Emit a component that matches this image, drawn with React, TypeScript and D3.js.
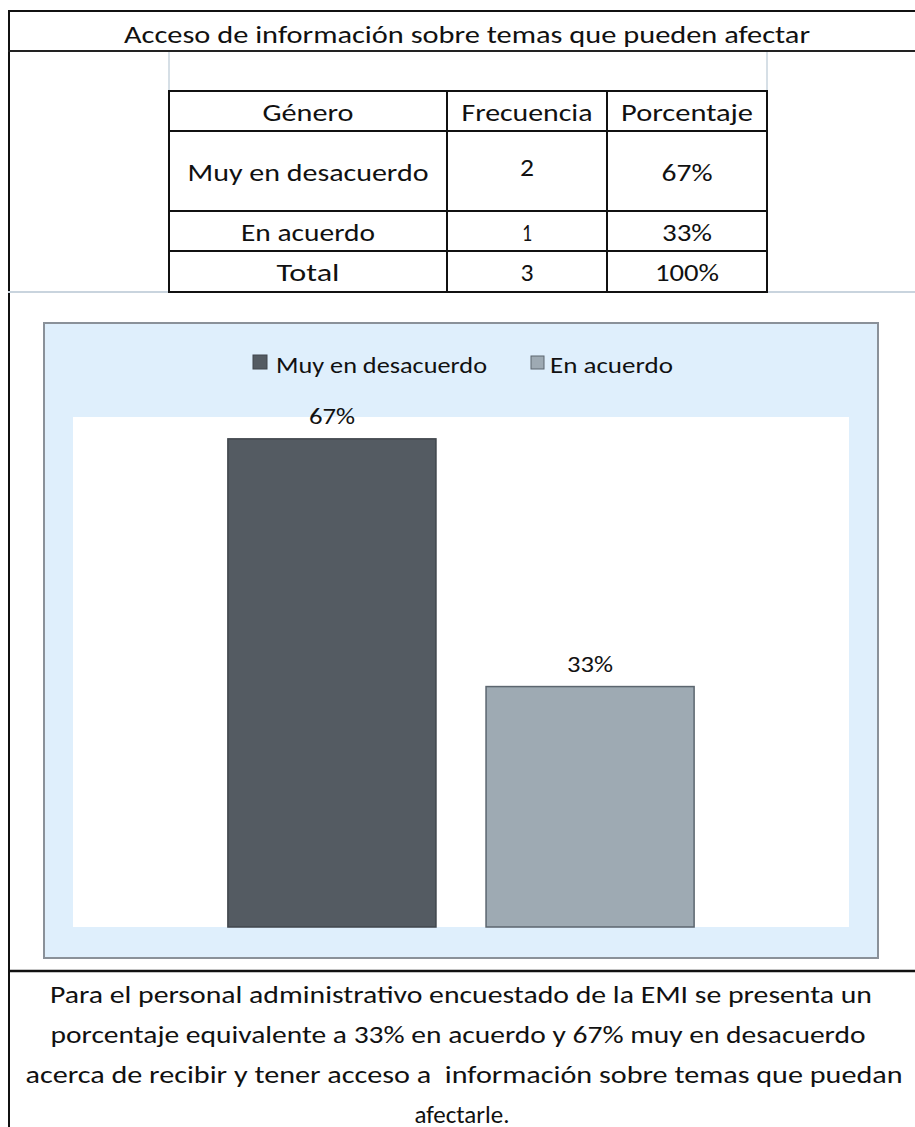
import React from 'react';
import * as d3 from 'd3';

const title = 'Acceso de información sobre temas que pueden afectar';
const tableHeaders = ['Género', 'Frecuencia', 'Porcentaje'];
const categories = ['Muy en desacuerdo', 'En acuerdo'];
const frequencies = [2, 1];
const percentLabels = ['67%', '33%'];
const totalRow = ['Total', '3', '100%'];
const values = [0.67, 0.33];
const colors = ['#545b62', '#9eaab3'];
const strokes = ['#40464c', '#5c666f'];
const captionLines = [
  'Para el personal administrativo encuestado de la EMI se presenta un',
  'porcentaje equivalente a 33% en acuerdo y 67% muy en desacuerdo',
  'acerca de recibir y tener acceso a  información sobre temas que puedan',
  'afectarle.',
];

const FONT = "Carlito, Calibri, Lato, 'Open Sans', sans-serif";

// plot area (white) inside the light-blue chart box
const plot = { left: 73, top: 417, right: 849, bottom: 927 };

// measured text widths, so the narrow original font is kept
const cellWidths = [
  [91, 131, 132],
  [241, 14, 51],
  [134, 10, 50],
  [63, 13, 64],
];

const App: React.FC = () => {
  const x = d3
    .scaleBand<string>()
    .domain(categories)
    .range([plot.left, plot.right])
    .paddingInner(0.194)
    .paddingOuter(0.6);

  const y = d3.scaleLinear().domain([0, 0.7]).range([plot.bottom, plot.top]);

  // table geometry
  const colEdges = [169, 447, 607, 767];
  const rowEdges = [91, 131, 211, 251, 292];
  const colCenter = (i: number) => (colEdges[i] + colEdges[i + 1]) / 2;
  const rowCenter = (i: number) => (rowEdges[i] + rowEdges[i + 1]) / 2;

  const tableRows: string[][] = [
    tableHeaders,
    ...categories.map((c, i) => [c, String(frequencies[i]), percentLabels[i]]),
    totalRow,
  ];

  const captionCx = [461, 458, 464, 462];
  const captionLen = [822, 815, 877, 95];

  return (
    <svg
      width={915}
      height={1127}
      style={{ position: 'absolute', left: 0, top: 0, background: '#fff' }}
      fontFamily={FONT}
    >
      {/* outer frame */}
      <line x1={8} x2={915} y1={11} y2={11} stroke="#111" strokeWidth={2} />
      <line x1={9} x2={9} y1={10} y2={1127} stroke="#111" strokeWidth={2} />
      <line x1={8} x2={915} y1={51} y2={51} stroke="#222" strokeWidth={2} />
      <line x1={8} x2={915} y1={292} y2={292} stroke="#c9d4de" strokeWidth={2} />
      <line x1={8} x2={915} y1={971} y2={971} stroke="#111" strokeWidth={2.5} />

      <text x={467} y={34} textAnchor="middle" dominantBaseline="central" fontSize={25}
        textLength={686} lengthAdjust="spacingAndGlyphs" fill="#111">
        {title}
      </text>

      {/* faint cell borders above the table */}
      <line x1={169} x2={169} y1={52} y2={91} stroke="#c9d4de" strokeWidth={1.5} />
      <line x1={767} x2={767} y1={52} y2={91} stroke="#c9d4de" strokeWidth={1.5} />

      {/* table */}
      {rowEdges.map((ry) => (
        <line key={'r' + ry} x1={colEdges[0] - 1} x2={colEdges[3] + 1} y1={ry} y2={ry} stroke="#111" strokeWidth={2} />
      ))}
      {colEdges.map((cx) => (
        <line key={'c' + cx} x1={cx} x2={cx} y1={rowEdges[0]} y2={rowEdges[4]} stroke="#111" strokeWidth={2} />
      ))}
      {tableRows.map((row, ri) =>
        row.map((cell, ci) => (
          <text
            key={ri + '-' + ci}
            x={colCenter(ci)}
            y={rowCenter(ri) + (ri === 1 && ci === 1 ? -4 : 1)}
            textAnchor="middle"
            dominantBaseline="central"
            fontSize={25}
            fill="#111"
            textLength={cellWidths[ri][ci]}
            lengthAdjust="spacingAndGlyphs"
          >
            {cell}
          </text>
        ))
      )}

      {/* chart box */}
      <rect x={44} y={323} width={834} height={635} fill="#dfeffc" stroke="#8a9199" strokeWidth={2} />
      <rect x={plot.left} y={plot.top} width={plot.right - plot.left} height={plot.bottom - plot.top} fill="#fff" />

      {/* legend */}
      <rect x={253} y={355} width={14} height={14} fill={colors[0]} stroke={strokes[0]} strokeWidth={1} />
      <text x={276} y={365} dominantBaseline="central" fontSize={23} fill="#111"
        textLength={211} lengthAdjust="spacingAndGlyphs">
        {categories[0]}
      </text>
      <rect x={531} y={356} width={13} height={13} fill={colors[1]} stroke={strokes[1]} strokeWidth={1} />
      <text x={550} y={365} dominantBaseline="central" fontSize={23} fill="#111"
        textLength={123} lengthAdjust="spacingAndGlyphs">
        {categories[1]}
      </text>

      {/* bars */}
      {categories.map((c, i) => (
        <g key={c}>
          <rect
            x={x(c)}
            y={y(values[i])}
            width={x.bandwidth()}
            height={y(0) - y(values[i])}
            fill={colors[i]}
            stroke={strokes[i]}
            strokeWidth={1.5}
          />
          <text
            x={(x(c) ?? 0) + x.bandwidth() / 2}
            y={y(values[i]) - 22}
            textAnchor="middle"
            dominantBaseline="central"
            fontSize={22}
            fill="#111"
            textLength={46}
            lengthAdjust="spacingAndGlyphs"
          >
            {percentLabels[i]}
          </text>
        </g>
      ))}

      {/* caption */}
      {captionLines.map((line, i) => (
        <text
          key={i}
          x={captionCx[i]}
          y={994 + i * 40}
          textAnchor="middle"
          dominantBaseline="central"
          fontSize={24}
          fill="#111"
          style={{ whiteSpace: 'pre' }}
          textLength={captionLen[i]}
          lengthAdjust="spacingAndGlyphs"
        >
          {line}
        </text>
      ))}
    </svg>
  );
};

export default App;
